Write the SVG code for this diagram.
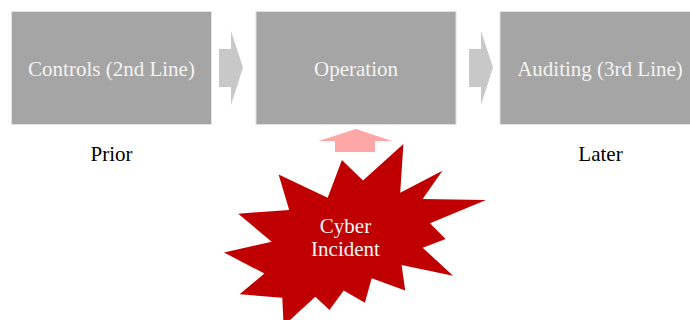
<svg xmlns="http://www.w3.org/2000/svg" width="690" height="320" viewBox="0 0 690 320">
<style>
.box{fill:#a5a5a5;stroke:#e2e2e2;stroke-width:1}
.boxt{font-family:"Liberation Serif","Times New Roman",serif;font-size:21px;fill:#f4f4f4;text-anchor:middle}
.lbl{font-family:"Liberation Serif","Times New Roman",serif;font-size:21px;fill:#000;text-anchor:middle}
.garrow{fill:#c8c8c8}
</style>
<rect width="690" height="320" fill="#fff"/>
<g id="controls">
<rect class="box" x="11.5" y="11.5" width="200" height="113"/>
<text class="boxt" x="111.5" y="76">Controls (2nd Line)</text>
</g>
<g id="operation">
<rect class="box" x="256" y="11.5" width="200" height="113"/>
<text class="boxt" x="356" y="76">Operation</text>
</g>
<g id="auditing">
<rect class="box" x="500" y="11.5" width="200" height="113"/>
<text class="boxt" x="600" y="76">Auditing (3rd Line)</text>
</g>
<g id="prior"><text class="lbl" x="111.5" y="160.5">Prior</text></g>
<g id="later"><text class="lbl" x="600.5" y="160.5">Later</text></g>
<g id="connectors">
<polygon class="garrow" points="219,49 231,49 231,31 243,67.5 231,105 231,87 219,87"/>
<polygon class="garrow" points="469,49 481,49 481,31 493,67.5 481,105 481,87 469,87"/>
<polygon fill="#ffa6a6" points="335,152 335,141 318.5,141 356,129 392,141 375,141 375,152"/>
</g>
<g id="cyber-incident">
<polygon fill="#c00000" points="363,180.6 403.4,144 400.2,192.7 442.4,170.7 422.7,199 486,200 430,223.2 445.6,239.1 422.7,247.7 453,275.7 401.6,264.9 405.2,290.4 371.7,278.3 364.9,302.8 343.7,290.4 329.5,310.1 315.3,296.7 283.6,326 282.3,297.7 239.6,294.2 264.4,273.5 224,252.5 271.7,241.7 238.2,213.7 289.2,209.9 278.6,174.5 327.7,197.8 341.9,159.9"/>
<text class="boxt" x="345.5" y="232.5" style="font-size:21px;fill:#f6f6f6">Cyber</text>
<text class="boxt" x="345.5" y="256" style="font-size:21px;fill:#f6f6f6">Incident</text>
</g>
</svg>
